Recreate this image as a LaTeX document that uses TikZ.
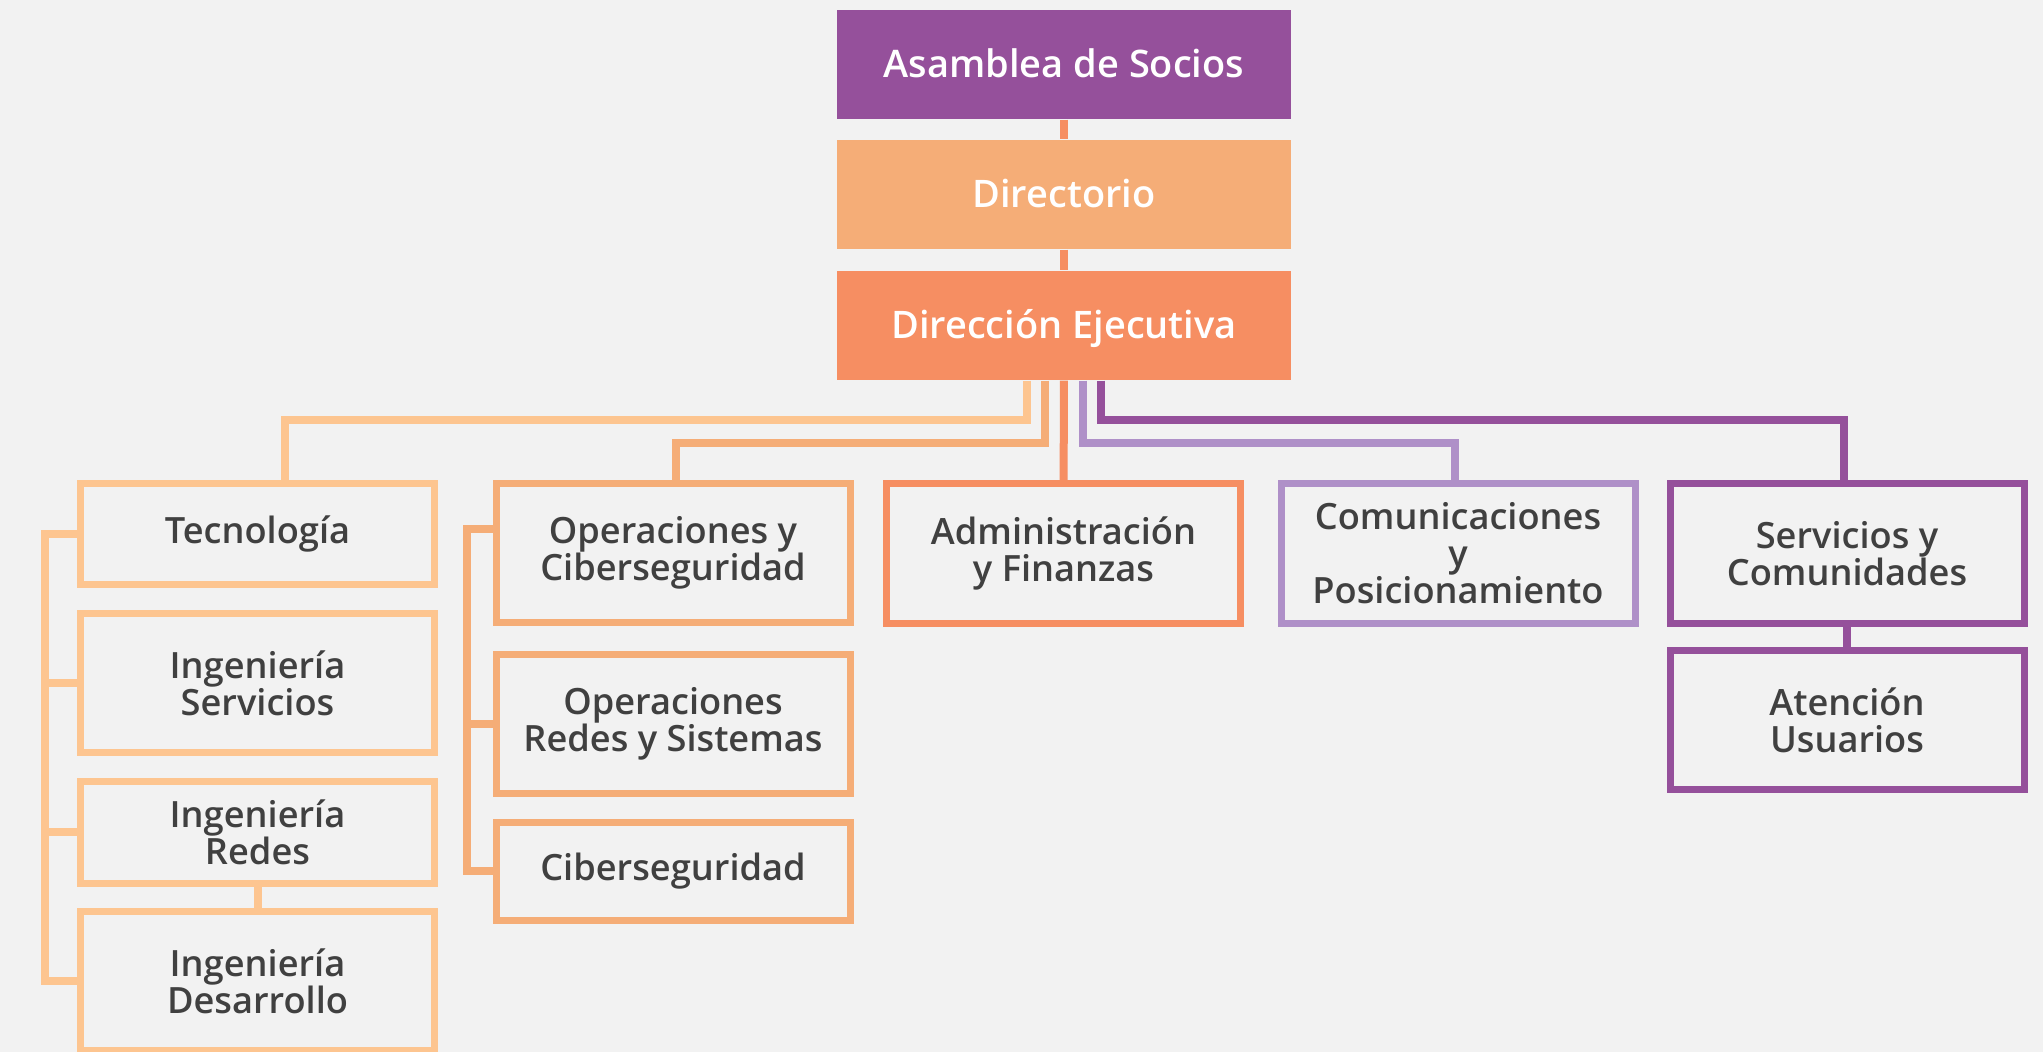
\documentclass[tikz,border=0pt]{standalone}
\usepackage{fontspec}
\setmainfont{Open Sans}[BoldFont={Open Sans Semibold}]
\definecolor{fondo}{HTML}{F2F2F2}
\definecolor{morado}{HTML}{95509B}
\definecolor{lila}{HTML}{AF90C8}
\definecolor{durazno}{HTML}{FDC590}
\definecolor{salmon}{HTML}{F5AD77}
\definecolor{naranja}{HTML}{F68E62}
\definecolor{texto}{HTML}{404040}

\begin{document}
\begin{tikzpicture}[
    top/.style={rectangle, fill=#1, text=white, font=\bfseries\fontsize{10.8}{13}\selectfont, minimum width=4.54cm, minimum height=1.09cm, text height=0.74em, text depth=0pt, inner sep=0pt},
    area/.style={rectangle, draw=#1, line width=0.07cm, fill=fondo, text=texto, font=\bfseries\fontsize{10.3}{10.5}\selectfont, align=center, minimum width=3.54cm, minimum height=1.39cm, inner sep=0pt},
    link/.style={draw=#1, line width=0.08cm}
]
    \fill[fondo] (0,0) rectangle (20.43,-10.52);
    \useasboundingbox (0,0) rectangle (20.43,-10.52);

    % Upper levels
    \node[top=morado] (asamblea) at (10.64,-0.645) {Asamblea de Socios};
    \node[top=salmon] (directorio) at (10.64,-1.945) {Directorio};
    \node[top=naranja] (direccion) at (10.64,-3.255) {Dirección Ejecutiva};

    % Tecnologia column
    \node[area=durazno, minimum height=1.01cm] (tecno) at (2.575,-5.34) {Tecnología};
    \node[area=durazno] (ingserv) at (2.575,-6.83) {Ingeniería\\Servicios};
    \node[area=durazno, minimum height=1.02cm] (ingredes) at (2.575,-8.325) {Ingeniería\\Redes};
    \node[area=durazno] (ingdes) at (2.575,-9.81) {Ingeniería\\Desarrollo};

    % Operaciones column
    \node[area=salmon] (opciber) at (6.73,-5.53) {Operaciones y\\Ciberseguridad};
    \node[area=salmon] (opredes) at (6.73,-7.24) {Operaciones\\Redes y Sistemas};
    \node[area=salmon, minimum height=0.98cm] (ciber) at (6.73,-8.715) {Ciberseguridad};

    % Other areas
    \node[area=naranja, minimum height=1.40cm] (admin) at (10.635,-5.535) {Administración\\y Finanzas};
    \node[area=lila, minimum height=1.40cm] (comunic) at (14.58,-5.535) {Comunicaciones\\y\\Posicionamiento};
    \node[area=morado, minimum height=1.40cm] (servicios) at (18.47,-5.535) {Servicios y\\Comunidades};
    \node[area=morado] (atencion) at (18.47,-7.20) {Atención\\Usuarios};

    % Vertical chain
    \draw[link=naranja] (asamblea) -- (directorio);
    \draw[link=naranja] (directorio) -- (direccion);

    % Lines from Direccion Ejecutiva
    \draw[link=durazno] ([xshift=-0.37cm]direccion.south) -- ++(0,-0.395) -| ([xshift=0.275cm]tecno.north);
    \draw[link=salmon] ([xshift=-0.19cm]direccion.south) -- ++(0,-0.62) -| ([xshift=0.03cm]opciber.north);
    \draw[link=naranja] (direccion) -- (admin);
    \draw[link=lila] ([xshift=0.19cm]direccion.south) -- ++(0,-0.62) -| ([xshift=-0.035cm]comunic.north);
    \draw[link=morado] ([xshift=0.37cm]direccion.south) -- ++(0,-0.395) -| ([xshift=-0.035cm]servicios.north);

    % Brackets on the left
    \coordinate (tecbar) at (0.45,0);
    \draw[link=durazno] (tecno.west) -- (tecno.west -| tecbar) |- (ingdes.west);
    \draw[link=durazno] (ingserv.west) -- (ingserv.west -| tecbar);
    \draw[link=durazno] (ingredes.west) -- (ingredes.west -| tecbar);
    \draw[link=durazno] (ingredes) -- (ingdes);

    \coordinate (opsbar) at (4.67,0);
    \draw[link=salmon] ([yshift=0.235cm]opciber.west) -- ([yshift=0.235cm]opciber.west -| opsbar) |- (ciber.west);
    \draw[link=salmon] (opredes.west) -- (opredes.west -| opsbar);

    \draw[link=morado] (servicios) -- (atencion);
\end{tikzpicture}
\end{document}
